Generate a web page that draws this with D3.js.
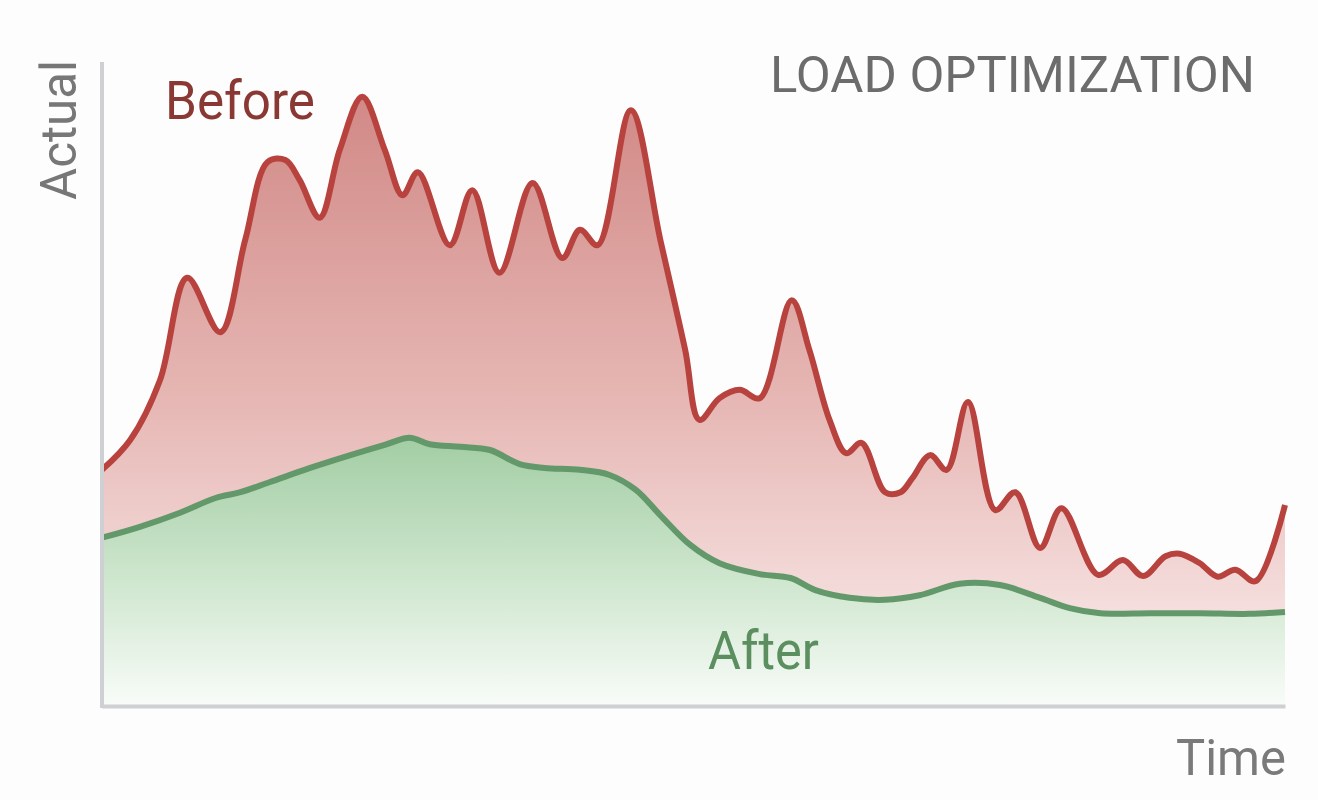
<!DOCTYPE html>
<html>
<head>
<meta charset="utf-8">
<script src="https://cdn.jsdelivr.net/npm/d3@7"></script>
<style>
  body { margin: 0; background: #fdfdfd; }
  text { font-family: Roboto, "Liberation Sans", sans-serif; }
</style>
</head>
<body>
<div id="chart"></div>
<script>
// time positions (0-100) and values (0-100)
var beforeTime = [0, 2.4, 4.9, 7.2, 10.0, 12.1, 14.0, 15.5, 16.7, 18.4, 20.1, 22.0, 23.9, 25.4, 26.7,
  29.4, 31.3, 33.6, 36.4, 38.9, 40.4, 41.9, 44.7, 47.2, 49.3, 50.5, 52.2, 53.9, 55.6, 58.3,
  59.8, 61.5, 62.9, 64.2, 66.2, 67.5, 68.5, 70.0, 71.4, 73.2, 75.5, 77.2, 79.3, 81.1, 84.2,
  86.3, 88.0, 89.9, 91.1, 92.8, 94.3, 95.8, 97.5, 100];
var beforeValues = [36.9, 41.6, 50.9, 66.9, 58.4, 72.8, 85.0, 85.3, 82.2, 76.3, 86.9, 95.2, 86.9, 79.8, 83.4,
  72.0, 80.6, 67.7, 81.7, 70.0, 74.4, 72.0, 93.1, 72.8, 55.6, 44.7, 48.1, 49.4, 48.1, 63.4,
  55.6, 44.7, 39.5, 41.1, 33.4, 33.4, 35.6, 39.2, 36.9, 47.5, 30.6, 33.4, 24.7, 30.9, 20.5,
  22.8, 20.3, 23.4, 23.8, 22.3, 20.2, 21.3, 19.5, 31.4];

var afterTime = [0, 3.2, 6.6, 9.6, 11.7, 14.2, 17.6, 21.0, 23.9, 26.0, 27.7, 30.3, 32.8, 35.3, 37.4,
  40.4, 42.9, 45.1, 47.2, 49.7, 52.2, 55.6, 58.2, 60.3, 63.2, 66.2, 69.1, 72.5, 75.9, 79.3,
  81.8, 84.4, 88.6, 92.8, 97.0, 100];
var afterValues = [26.3, 28.0, 30.2, 32.5, 33.4, 35.0, 37.2, 39.2, 40.8, 41.9, 40.9, 40.5, 40.0, 37.8, 37.2,
  36.9, 36.1, 33.8, 29.8, 25.2, 22.3, 20.6, 20.0, 18.1, 16.9, 16.6, 17.3, 19.1, 18.9, 16.9,
  15.3, 14.5, 14.5, 14.5, 14.4, 14.7];

var chartTitle = "LOAD OPTIMIZATION";
var yLabel = "Actual";
var xLabel = "Time";

var svgWidth = 1318;
var svgHeight = 800;

var margin = { top: 66, right: 33, bottom: 94, left: 102 };
var width = svgWidth - margin.left - margin.right;
var height = svgHeight - margin.top - margin.bottom;

var svg = d3.select("#chart")
  .append("svg")
  .attr("width", svgWidth)
  .attr("height", svgHeight);

var defs = svg.append("defs");

var redGrad = defs.append("linearGradient")
  .attr("id", "redGrad")
  .attr("gradientUnits", "userSpaceOnUse")
  .attr("x1", 0).attr("x2", 0)
  .attr("y1", 30).attr("y2", height);
redGrad.append("stop").attr("offset", 0).attr("stop-color", "#d18986");
redGrad.append("stop").attr("offset", 0.5).attr("stop-color", "#e6b7b4");
redGrad.append("stop").attr("offset", 1).attr("stop-color", "#fbf0f0");

var greenGrad = defs.append("linearGradient")
  .attr("id", "greenGrad")
  .attr("gradientUnits", "userSpaceOnUse")
  .attr("x1", 0).attr("x2", 0)
  .attr("y1", 370).attr("y2", height);
greenGrad.append("stop").attr("offset", 0).attr("stop-color", "#a2cda3");
greenGrad.append("stop").attr("offset", 0.55).attr("stop-color", "#d0e7d0");
greenGrad.append("stop").attr("offset", 1).attr("stop-color", "#f9fcf9");

var g = svg.append("g")
  .attr("transform", `translate(${margin.left}, ${margin.top})`);

// scales
var xScale = d3.scaleLinear().domain([0, 100]).range([0, width]);
var yScale = d3.scaleLinear().domain([0, 100]).range([height, 0]);

var before = beforeTime.map((t, i) => ({ t: t, v: beforeValues[i] }));
var after = afterTime.map((t, i) => ({ t: t, v: afterValues[i] }));

var curve = d3.curveCatmullRom.alpha(0.5);

var area = d3.area()
  .x(d => xScale(d.t))
  .y0(height)
  .y1(d => yScale(d.v))
  .curve(curve);

var line = d3.line()
  .x(d => xScale(d.t))
  .y(d => yScale(d.v))
  .curve(curve);

// areas
g.append("path").datum(before)
  .attr("d", area)
  .attr("fill", "url(#redGrad)");

g.append("path").datum(after)
  .attr("d", area)
  .attr("fill", "url(#greenGrad)");

// lines
g.append("path").datum(before)
  .attr("d", line)
  .attr("fill", "none")
  .attr("stroke", "#b8433e")
  .attr("stroke-width", 6)
  .attr("stroke-linejoin", "round");

g.append("path").datum(after)
  .attr("d", line)
  .attr("fill", "none")
  .attr("stroke", "#62986a")
  .attr("stroke-width", 6)
  .attr("stroke-linejoin", "round");

// axes (plain lines, no ticks)
var xAxis = d3.axisBottom(xScale).tickValues([]).tickSizeOuter(0);
var yAxis = d3.axisLeft(yScale).tickValues([]).tickSizeOuter(0);

g.append("g")
  .attr("transform", `translate(0, ${height})`)
  .call(xAxis)
  .select(".domain")
  .attr("stroke", "#cfd0d4")
  .attr("stroke-width", 4);

g.append("g")
  .attr("transform", "translate(0, -4)")
  .call(yAxis)
  .select(".domain")
  .attr("stroke", "#cfd0d4")
  .attr("stroke-width", 4)
  .attr("d", `M0,0V${height + 6}`);

// labels
svg.append("text")
  .attr("x", 1255)
  .attr("y", 92)
  .attr("text-anchor", "end")
  .attr("fill", "#6c6c6c")
  .attr("font-size", 50)
  .attr("textLength", 485)
  .attr("lengthAdjust", "spacingAndGlyphs")
  .text(chartTitle);

svg.append("text")
  .attr("transform", "translate(76, 130) rotate(-90)")
  .attr("text-anchor", "middle")
  .attr("fill", "#777777")
  .attr("font-size", 50)
  .attr("textLength", 140)
  .attr("lengthAdjust", "spacingAndGlyphs")
  .text(yLabel);

svg.append("text")
  .attr("x", 1286)
  .attr("y", 775)
  .attr("text-anchor", "end")
  .attr("fill", "#7a7a7a")
  .attr("font-size", 50)
  .attr("textLength", 110)
  .attr("lengthAdjust", "spacingAndGlyphs")
  .text(xLabel);

svg.append("text")
  .attr("x", 165)
  .attr("y", 119)
  .attr("fill", "#8a3833")
  .attr("font-size", 54)
  .attr("textLength", 150)
  .attr("lengthAdjust", "spacingAndGlyphs")
  .text("Before");

svg.append("text")
  .attr("x", 708)
  .attr("y", 669)
  .attr("fill", "#5b8f60")
  .attr("font-size", 54)
  .attr("textLength", 111)
  .attr("lengthAdjust", "spacingAndGlyphs")
  .text("After");
</script>
</body>
</html>
